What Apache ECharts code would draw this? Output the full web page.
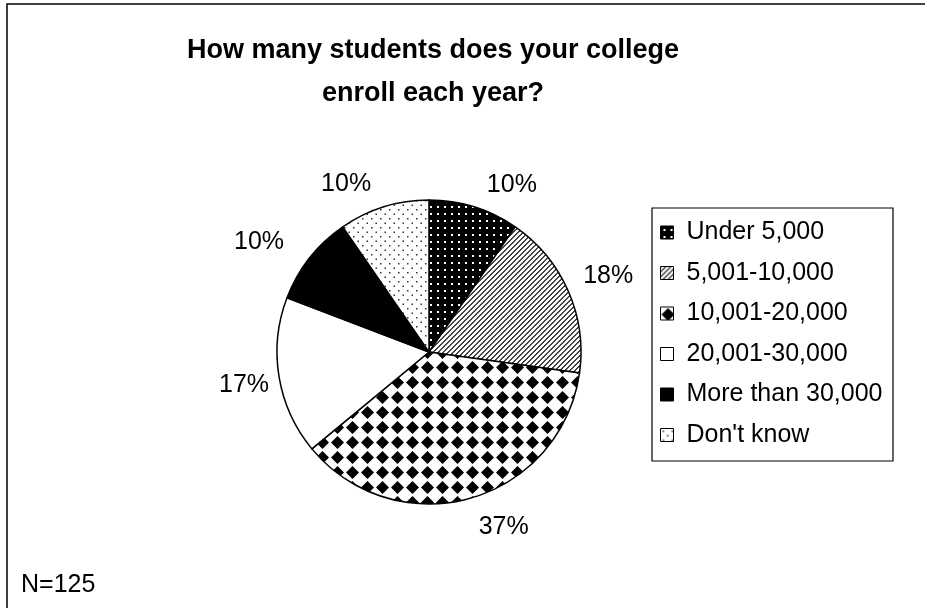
<!DOCTYPE html>
<html>
<head>
<meta charset="utf-8">
<script src="https://cdn.jsdelivr.net/npm/echarts@6/dist/echarts.min.js"></script>
<style>
  html, body { margin: 0; padding: 0; background: #fff; }
  #main { width: 925px; height: 608px; }
</style>
</head>
<body>
<div id="main"></div>
<script>
// enrollment size buckets (N=125)
const categories = ['Under 5,000', '5,001-10,000', '10,001-20,000', '20,001-30,000', 'More than 30,000', "Don't know"]
const counts = [12, 22, 46, 21, 12, 12]
const percentLabels = ['10%', '18%', '37%', '17%', '10%', '10%']

// label placement tweaks (gap from pie edge, then nudge) to sit like the excel output
const labelTweak = [
  { len: 26, dx: 0, dy: 3 },
  { len: 11, dx: 0, dy: -10 },
  { len: 30, dx: -5, dy: 0 },
  { len: 5, dx: 0, dy: 8 },
  { len: 26, dx: 0, dy: 0 },
  { len: 26, dx: 0, dy: 2 }
]

// small canvas tiles for the black & white fills
function makePattern(w, h, draw) {
  const c = document.createElement('canvas')
  c.width = w
  c.height = h
  const ctx = c.getContext('2d')
  draw(ctx, w, h)
  return { image: c, repeat: 'repeat' }
}

const patterns = [
  // white dots on black
  makePattern(7, 7, (ctx, w, h) => {
    ctx.fillStyle = '#000'
    ctx.fillRect(0, 0, w, h)
    ctx.fillStyle = '#fff'
    ctx.fillRect(3, 3, 2, 2)
  }),
  // diagonal hatch
  makePattern(5, 5, (ctx, w, h) => {
    ctx.fillStyle = '#fff'
    ctx.fillRect(0, 0, w, h)
    ctx.fillStyle = '#444'
    for (let y = 0; y < h; y++) {
      ctx.fillRect((w - 1 - y + w) % w, y, 1, 1)
      ctx.fillRect((w - y + w) % w, y, 1, 1)
    }
  }),
  // diamonds
  makePattern(15, 15, (ctx, w, h) => {
    ctx.fillStyle = '#fff'
    ctx.fillRect(0, 0, w, h)
    ctx.fillStyle = '#000'
    ctx.beginPath()
    ctx.moveTo(7.5, 1)
    ctx.lineTo(14, 7.5)
    ctx.lineTo(7.5, 14)
    ctx.lineTo(1, 7.5)
    ctx.closePath()
    ctx.fill()
  }),
  '#fff',
  '#000',
  // sparse black dots on white
  makePattern(9, 9, (ctx, w, h) => {
    ctx.fillStyle = '#fff'
    ctx.fillRect(0, 0, w, h)
    ctx.fillStyle = '#333'
    ctx.fillRect(2, 2, 1.5, 1.5)
    ctx.fillRect(6.5, 6.5, 1.5, 1.5)
  })
]

const chart = echarts.init(document.getElementById('main'))

const option = {
  backgroundColor: '#fff',
  animation: false,
  title: {
    text: 'How many students does your college\nenroll each year?',
    left: 428,
    top: 24,
    textAlign: 'center',
    textStyle: {
      fontFamily: 'Liberation Sans',
      fontWeight: 'bold',
      fontSize: 27,
      lineHeight: 43,
      color: '#000'
    }
  },
  legend: {
    orient: 'vertical',
    left: 655,
    top: 215,
    itemGap: 15.5,
    itemWidth: 13,
    itemHeight: 13,
    icon: 'rect',
    data: categories,
    itemStyle: {
      borderColor: '#000',
      borderWidth: 1
    },
    textStyle: {
      fontFamily: 'Liberation Sans',
      fontSize: 25,
      color: '#000',
      padding: [0, 0, 0, 8]
    }
  },
  graphic: [
    {
      type: 'rect',
      shape: { x: 7, y: 4, width: 940, height: 640 },
      style: { fill: 'none', stroke: '#000', lineWidth: 1.5 },
      silent: true
    },
    {
      type: 'rect',
      shape: { x: 652, y: 208, width: 241, height: 253 },
      style: { fill: 'none', stroke: '#000', lineWidth: 1.2 },
      silent: true
    },
    {
      type: 'text',
      left: 21,
      top: 573,
      style: {
        text: 'N=125',
        font: '25px "Liberation Sans"',
        fill: '#000'
      }
    }
  ],
  series: [
    {
      type: 'pie',
      center: [429, 352],
      radius: 152,
      startAngle: 90,
      clockwise: true,
      avoidLabelOverlap: false,
      data: categories.map((name, i) => ({
        name: name,
        value: counts[i],
        itemStyle: { color: patterns[i] },
        labelLine: { length: labelTweak[i].len }
      })),
      itemStyle: {
        borderColor: '#000',
        borderWidth: 1.5
      },
      label: {
        show: true,
        position: 'outside',
        formatter: (p) => percentLabels[p.dataIndex],
        fontFamily: 'Liberation Sans',
        fontSize: 25,
        color: '#000'
      },
      labelLine: {
        show: false,
        length: 26,
        length2: 0
      },
      labelLayout: (p) => ({
        dx: labelTweak[p.dataIndex].dx,
        dy: labelTweak[p.dataIndex].dy
      }),
      emphasis: { disabled: true }
    }
  ]
}

chart.setOption(option)
</script>
</body>
</html>
